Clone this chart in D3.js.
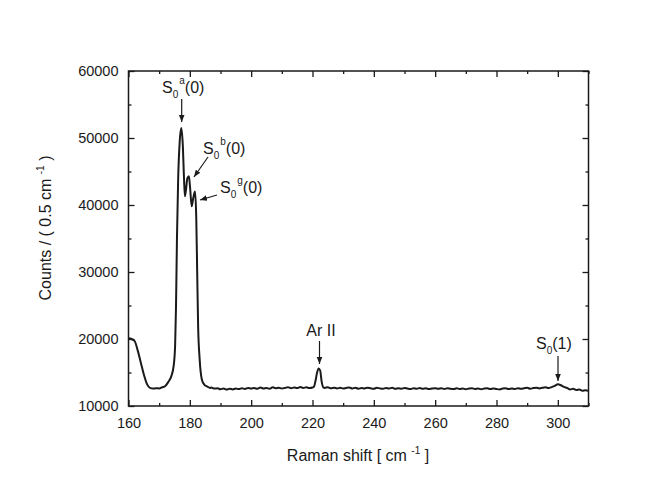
<!DOCTYPE html>
<html>
<head>
<meta charset="utf-8">
<script src="https://cdn.jsdelivr.net/npm/d3@7/dist/d3.min.js"></script>
<style>
  body { margin: 0; background: #fff; }
  svg { display: block; font-family: "Liberation Sans", Arial, sans-serif; }
</style>
</head>
<body>
<svg id="chart" width="664" height="502"></svg>
<script>
// Raman shift (cm^-1)
const shift = [
  160,161,162,163,164,165,166,167,168,169,170,171,172,173,174,174.7,175.2,175.5,175.8,176.2,176.7,177.2,177.7,178.1,178.4,178.8,179.2,179.7,180.1,180.6,181.1,181.7,182.1,182.4,182.7,183.2,183.9,184.7,185.7,186.6,
  187,188,189,190,191,192,193,194,195,196,197,198,199,200,201,202,203,204,205,206,207,208,209,210,211,212,213,214,215,216,217,218,219,220,
  220.5,221,221.5,222,222.5,223,223.5,
  224,225,226,227,228,229,230,231,232,233,234,235,236,237,238,239,240,241,242,243,244,245,246,247,248,249,250,251,252,253,254,255,256,257,258,259,260,
  261,262,263,264,265,266,267,268,269,270,271,272,273,274,275,276,277,278,279,280,281,282,283,284,285,286,287,288,289,290,291,292,293,294,295,296,297,298,
  299,300,301,302,303,304,305,306,307,308,309,310
];
// Counts / (0.5 cm^-1)
const counts = [
  20100,20000,19700,18300,16500,14700,13300,12700,12600,12650,12620,12800,13000,13600,14500,15900,19000,25000,35000,44000,49500,51500,49000,44000,41300,42500,44000,44300,42500,39800,41000,42000,38000,30000,22000,17000,14000,13200,12900,12700,
  12750,12600,12650,12500,12620,12450,12580,12480,12600,12520,12650,12540,12700,12600,12680,12560,12750,12620,12700,12580,12780,12660,12720,12620,12700,12800,12660,12750,12680,12820,12700,12780,12680,12750,
  12900,13800,15000,15600,15300,13600,12800,
  12700,12800,12640,12740,12620,12720,12600,12700,12760,12620,12720,12580,12700,12620,12740,12640,12580,12720,12630,12580,12700,12600,12720,12560,12660,12580,12700,12600,12540,12660,12580,12680,12560,12640,12520,12620,12660,
  12560,12640,12540,12660,12560,12520,12640,12540,12620,12500,12600,12660,12540,12620,12500,12600,12640,12520,12620,12540,12480,12600,12640,12520,12620,12540,12660,12560,12640,12720,12580,12680,12740,12620,12720,12780,12680,12820,
  13000,13250,13100,12850,12700,12480,12560,12380,12460,12280,12360,12250
];
const xTicks = [160,180,200,220,240,260,280,300];
const xMinor = [170,190,210,230,250,270,290,310];
const yTicks = [10000,20000,30000,40000,50000,60000];
const yMinor = [15000,25000,35000,45000,55000];

const svg = d3.select("#chart");
const L = 128.5, R = 588.5, T = 71, B = 406;
const x = d3.scaleLinear().domain([160,310]).range([L,R]);
const y = d3.scaleLinear().domain([10000,60000]).range([B,T]);

const ink = "#1a1a1a";

function styleAxis(g) {
  g.select(".domain").remove();
  g.selectAll("line").attr("stroke", ink).attr("stroke-width", 1.3);
  g.selectAll("text").attr("fill", ink).style("font-size", "14.5px")
    .style("font-family", "'Liberation Sans', Arial, sans-serif");
}

// bottom
svg.append("g").attr("transform",`translate(0,${B})`)
  .call(d3.axisBottom(x).tickValues(xTicks).tickSize(-6).tickPadding(12).tickFormat(d3.format("d")))
  .call(styleAxis);
svg.append("g").attr("transform",`translate(0,${B})`)
  .call(d3.axisBottom(x).tickValues(xMinor).tickSize(-3).tickFormat(""))
  .call(styleAxis);
// top
svg.append("g").attr("transform",`translate(0,${T})`)
  .call(d3.axisTop(x).tickValues(xTicks).tickSize(-6).tickFormat(""))
  .call(styleAxis);
svg.append("g").attr("transform",`translate(0,${T})`)
  .call(d3.axisTop(x).tickValues(xMinor).tickSize(-3).tickFormat(""))
  .call(styleAxis);
// left
svg.append("g").attr("transform",`translate(${L},0)`)
  .call(d3.axisLeft(y).tickValues(yTicks).tickSize(-6).tickPadding(10).tickFormat(d3.format("d")))
  .call(styleAxis);
svg.append("g").attr("transform",`translate(${L},0)`)
  .call(d3.axisLeft(y).tickValues(yMinor).tickSize(-3).tickFormat(""))
  .call(styleAxis);
// right
svg.append("g").attr("transform",`translate(${R},0)`)
  .call(d3.axisRight(y).tickValues(yTicks).tickSize(-6).tickFormat(""))
  .call(styleAxis);
svg.append("g").attr("transform",`translate(${R},0)`)
  .call(d3.axisRight(y).tickValues(yMinor).tickSize(-3).tickFormat(""))
  .call(styleAxis);

// frame
svg.append("rect").attr("x",L).attr("y",T).attr("width",R-L).attr("height",B-T)
  .attr("fill","none").attr("stroke",ink).attr("stroke-width",1.5);

// spectrum
const pts = shift.map((s,i)=>[s,counts[i]]);
svg.append("path").datum(pts)
  .attr("fill","none").attr("stroke",ink).attr("stroke-width",2).attr("stroke-linejoin","round")
  .attr("d", d3.line().x(d=>x(d[0])).y(d=>y(d[1])).curve(d3.curveMonotoneX));

// axis titles
const xt = svg.append("text").attr("x",358).attr("y",461).attr("text-anchor","middle")
  .attr("fill",ink).style("font-size","16px");
xt.append("tspan").text("Raman shift [ cm ");
xt.append("tspan").attr("dy",-7).style("font-size","10px").text("-1");
xt.append("tspan").attr("dy",7).text(" ]");

const yt = svg.append("text").attr("transform","translate(51,228) rotate(-90)").attr("text-anchor","middle")
  .attr("fill",ink).style("font-size","16px");
yt.append("tspan").text("Counts / ( 0.5 cm ");
yt.append("tspan").attr("dy",-7).style("font-size","10px").text("-1");
yt.append("tspan").attr("dy",7).text(" )");

// annotations
const defs = svg.append("defs");
defs.append("marker").attr("id","ah").attr("viewBox","0 0 10 10").attr("refX",10).attr("refY",5)
  .attr("markerWidth",7).attr("markerHeight",7).attr("orient","auto").attr("markerUnits","userSpaceOnUse")
  .append("path").attr("d","M0,1 L10,5 L0,9 Z").attr("fill",ink);

function label(xp, yp, main, sub, sup, tail) {
  const t = svg.append("text").attr("x",xp).attr("y",yp).attr("fill",ink).style("font-size","16px");
  t.append("tspan").text(main);
  t.append("tspan").attr("dy",5).style("font-size","10px").text(sub);
  if (sup) {
    t.append("tspan").attr("dx",1).attr("dy",-14).style("font-size","10px").text(sup);
    t.append("tspan").attr("dy",9).text(tail);
  } else {
    t.append("tspan").attr("dy",-5).text(tail);
  }
}
function arrow(x1,y1,x2,y2) {
  svg.append("line").attr("x1",x1).attr("y1",y1).attr("x2",x2).attr("y2",y2)
    .attr("stroke",ink).attr("stroke-width",1.2).attr("marker-end","url(#ah)");
}

label(162, 93, "S", "0", "a", "(0)");
arrow(181.7, 99, 181.7, 122);
label(203, 154, "S", "0", "b", "(0)");
arrow(208, 157, 194, 177);
label(220, 193, "S", "0", "g", "(0)");
arrow(217, 195, 200, 200);

svg.append("text").attr("x",321).attr("y",336).attr("text-anchor","middle").attr("fill",ink)
  .style("font-size","16px").text("Ar II");
arrow(319.5, 341, 319.5, 364);

label(536, 349, "S", "0", null, "(1)");
arrow(558, 356, 558, 381);
</script>
</body>
</html>
